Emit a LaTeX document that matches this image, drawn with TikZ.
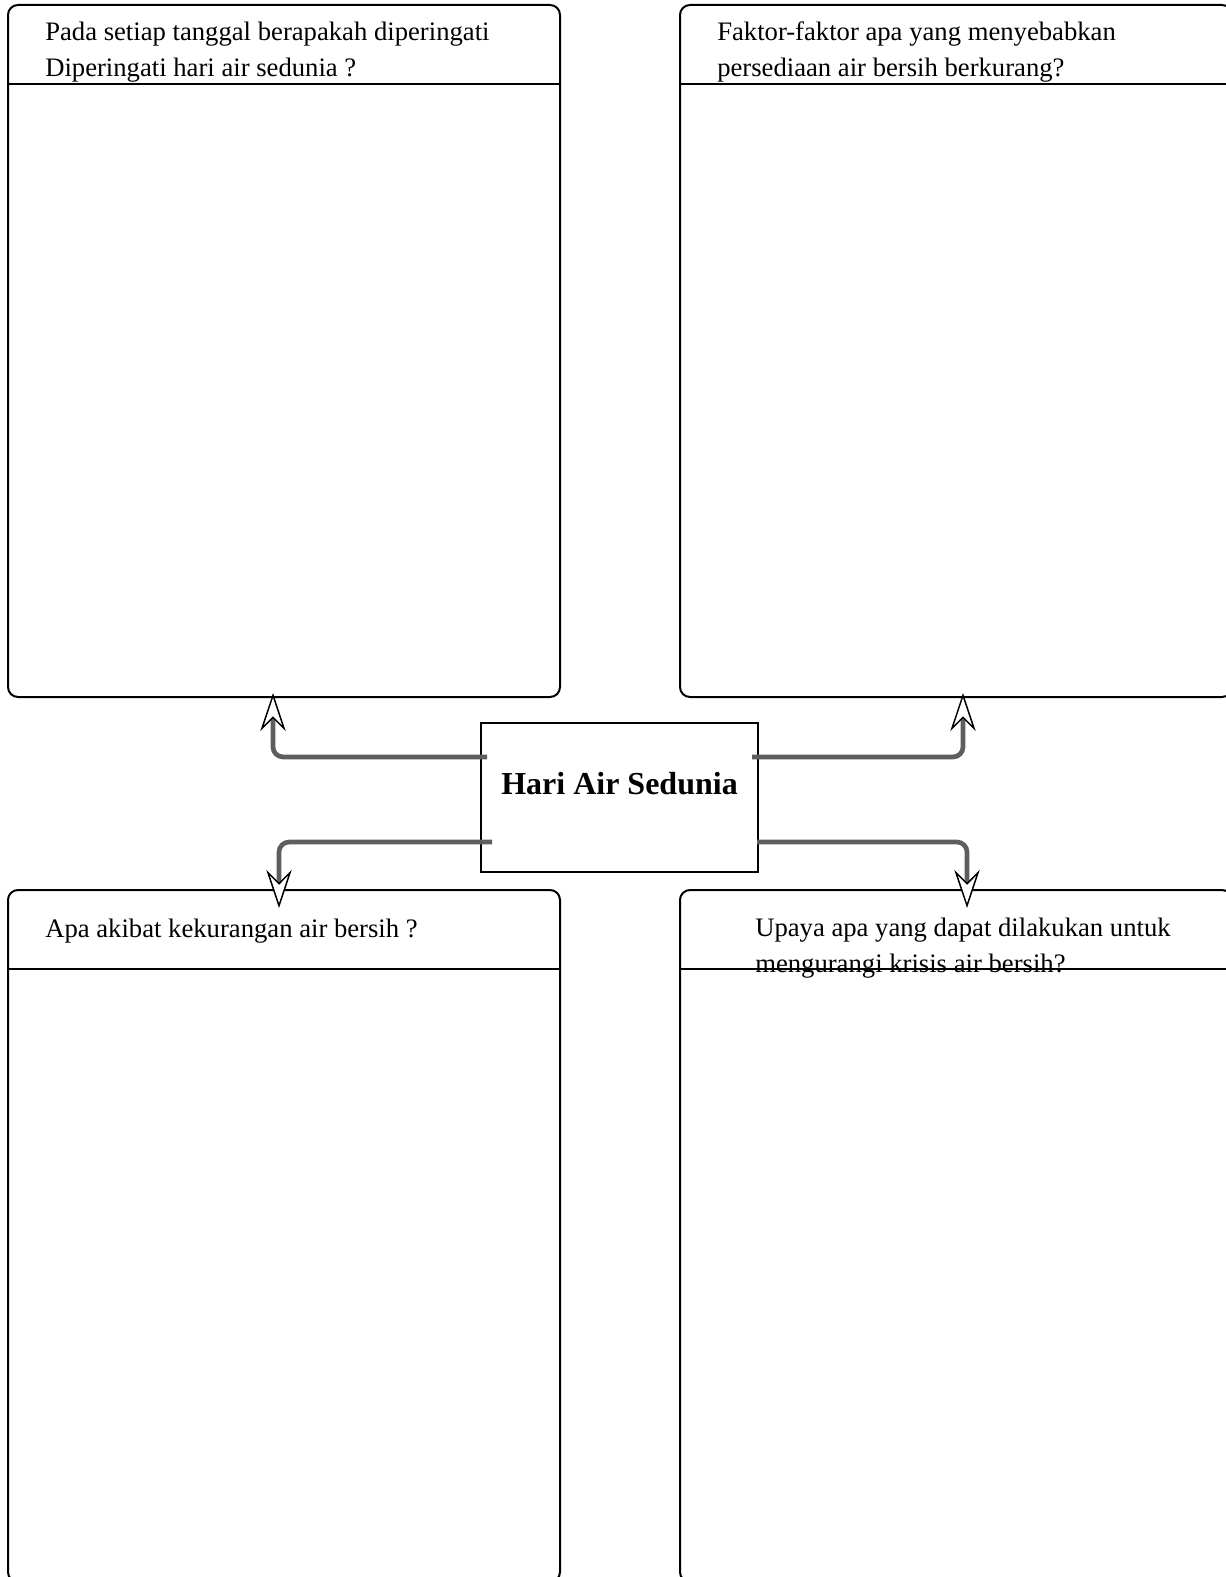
\documentclass[tikz,border=0pt]{standalone}
\usepackage{fontspec}
\setmainfont{Liberation Serif}
\usetikzlibrary{arrows.meta}
\definecolor{linkgray}{HTML}{5E5E5E}

\begin{document}
\begin{tikzpicture}[x=0.75pt,y=-0.75pt,
    panel/.style={draw,line width=1.5pt,rounded corners=7.5pt,minimum width=414pt,minimum height=519pt,inner sep=0pt,outer sep=0pt,anchor=north west},
    hubbox/.style={draw,line width=1.1pt,minimum width=207.75pt,minimum height=111.75pt,outer sep=0pt,font=\fontsize{24}{28}\selectfont\bfseries,text height=16pt,text depth=21.25pt},
    question/.style={anchor=north west,inner sep=0pt,align=left,font=\fontsize{20}{27}\selectfont},
    rule/.style={line width=1.5pt},
    link/.style={draw=linkgray,line width=3.5pt,rounded corners=7.5pt,to path={-| (\tikztotarget)},-{Stealth[length=28.5pt,width=19pt,inset=9.5pt,color=black,fill=white,line width=1.1pt]}}
  ]
  \useasboundingbox (0,0) rectangle (1226,1577);
  \clip (0,0) rectangle (1226,1577);
  % four question panels
  \node[panel](tl) at (8,5){};
  \node[panel](tr) at (680,5){};
  \node[panel](bl) at (8,890){};
  \node[panel](br) at (680,890){};
  \draw[rule] ([yshift=-59.25pt]tl.north west) -- ([yshift=-59.25pt]tl.north east);
  \draw[rule] ([yshift=-59.25pt]tr.north west) -- ([yshift=-59.25pt]tr.north east);
  \draw[rule] ([yshift=-59.25pt]bl.north west) -- ([yshift=-59.25pt]bl.north east);
  \draw[rule] ([yshift=-59.25pt]br.north west) -- ([yshift=-59.25pt]br.north east);
  \node[question](qtl) at (45,22){Pada setiap tanggal berapakah diperingati\\Diperingati hari air sedunia ?};
  \node[question](qtr) at (717,21){Faktor-faktor apa yang menyebabkan\\persediaan air bersih berkurang?};
  \node[question](qbl) at (45,919){Apa akibat kekurangan air bersih ?};
  \node[question](qbr) at (755,918){Upaya apa yang dapat dilakukan untuk\\mengurangi krisis air bersih?};
  % centre topic
  \node[hubbox](hub) at (619.5,797.5){Hari Air Sedunia};
  \path
    ([xshift=4.5pt,yshift=30.4pt]hub.west) edge[link] ([xshift=-8.25pt,yshift=3pt]tl.south)
    ([xshift=-4.5pt,yshift=30.4pt]hub.east) edge[link] ([xshift=5.25pt,yshift=3pt]tr.south)
    ([xshift=8.25pt,yshift=-33.4pt]hub.west) edge[link] ([xshift=-3.75pt,yshift=-13.5pt]bl.north)
    ([xshift=-0.75pt,yshift=-33.4pt]hub.east) edge[link] ([xshift=8.25pt,yshift=-13.5pt]br.north)
  ;
\end{tikzpicture}
\end{document}
